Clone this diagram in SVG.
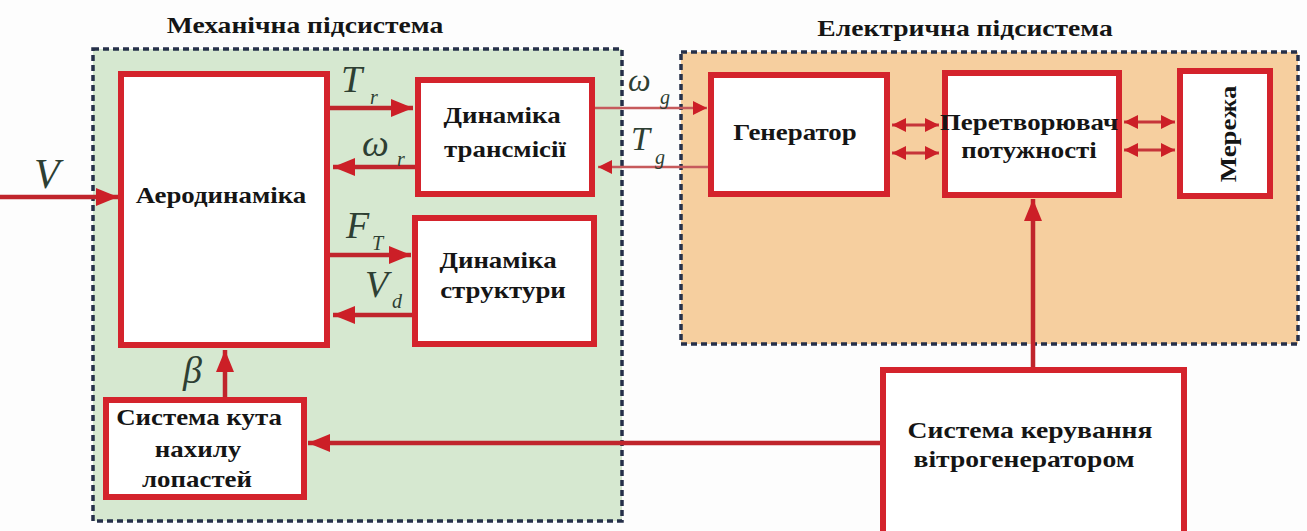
<svg xmlns="http://www.w3.org/2000/svg" width="1307" height="531" viewBox="0 0 1307 531">
  <style>
    .sub { fill: none; stroke: #26304a; stroke-width: 3.5; stroke-dasharray: 6 4; }
    .node { fill: #ffffff; stroke: #d4232c; stroke-width: 6; }
    .t { font-weight: bold; font-size: 24px; fill: #151515; text-anchor: middle; }
    .ttl { font-weight: bold; font-size: 24px; fill: #151515; text-anchor: middle; }
    .sym { font-style: italic; font-size: 38px; fill: #2e3f33; }
    .ix { font-style: italic; font-size: 20px; fill: #2e3f33; }
    .wire { fill: none; stroke: #c0252c; stroke-width: 4.5; }
    .thin { fill: none; stroke: #c65a5c; stroke-width: 2.5; }
    .duo { fill: none; stroke: #c6353a; stroke-width: 3; }
  </style>
  <defs>
    <marker id="head" markerUnits="userSpaceOnUse" markerWidth="24" markerHeight="18" refX="22" refY="9" orient="auto">
      <path d="M0,0 L22,9 L0,18 Z" fill="#cc1f27"/>
    </marker>
    <marker id="headS" markerUnits="userSpaceOnUse" markerWidth="16" markerHeight="14" refX="14" refY="7" orient="auto">
      <path d="M0,0 L14,7 L0,14 Z" fill="#cc1f27"/>
    </marker>
    <marker id="tail" markerUnits="userSpaceOnUse" markerWidth="16" markerHeight="14" refX="0" refY="7" orient="auto">
      <path d="M14,0 L0,7 L14,14 Z" fill="#cc1f27"/>
    </marker>
  </defs>

  <rect x="0" y="0" width="1307" height="531" fill="#fdfdfd"/>

  <!-- subsystem frames -->
  <g id="mech-subsystem">
    <rect x="93" y="49" width="529" height="472" fill="#d6e8d0"/>
    <rect class="sub" x="93" y="49" width="529" height="472"/>
    <text class="ttl" font-family="Liberation Serif" transform="translate(305,33) scale(1.15,1)">Механічна підсистема</text>
  </g>
  <g id="elec-subsystem">
    <rect x="681" y="52" width="617" height="292" fill="#f6cf9f"/>
    <rect class="sub" x="681" y="52" width="617" height="292"/>
    <text class="ttl" font-family="Liberation Serif" transform="translate(965,36) scale(1.15,1)">Електрична підсистема</text>
  </g>

  <!-- connectors -->
  <g id="connectors">
    <line class="wire" x1="0" y1="197" x2="118" y2="197" marker-end="url(#head)"/>
    <line class="wire" x1="330" y1="108" x2="413" y2="108" marker-end="url(#head)"/>
    <line class="wire" x1="415" y1="167" x2="333" y2="167" marker-end="url(#head)"/>
    <line class="wire" x1="330" y1="255" x2="411" y2="255" marker-end="url(#head)"/>
    <line class="wire" x1="412" y1="315" x2="333" y2="315" marker-end="url(#head)"/>
    <line class="thin" x1="595" y1="108" x2="707" y2="108" marker-end="url(#headS)"/>
    <line class="thin" x1="708" y1="167" x2="598" y2="167" marker-end="url(#headS)"/>
    <line class="duo" x1="892" y1="125" x2="939" y2="125" marker-start="url(#tail)" marker-end="url(#headS)"/>
    <line class="duo" x1="892" y1="153" x2="939" y2="153" marker-start="url(#tail)" marker-end="url(#headS)"/>
    <line class="duo" x1="1124" y1="122" x2="1175" y2="122" marker-start="url(#tail)" marker-end="url(#headS)"/>
    <line class="duo" x1="1124" y1="150" x2="1175" y2="150" marker-start="url(#tail)" marker-end="url(#headS)"/>
    <line class="wire" x1="1033" y1="367" x2="1033" y2="199" marker-end="url(#head)"/>
    <line class="wire" x1="880" y1="443" x2="308" y2="443" marker-end="url(#head)"/>
    <line class="wire" x1="225" y1="397" x2="225" y2="350" marker-end="url(#head)"/>

    <!-- signal labels -->
    <text class="sym" font-family="Liberation Serif" x="34" y="188" style="font-size:42px">V</text>
    <text class="sym" font-family="Liberation Serif" x="341" y="92">T</text>
    <text class="ix" font-family="Liberation Serif" x="370" y="104">r</text>
    <text class="sym" font-family="Liberation Serif" x="362" y="156">ω</text>
    <text class="ix" font-family="Liberation Serif" x="397" y="166">r</text>
    <text class="sym" font-family="Liberation Serif" x="346" y="238">F</text>
    <text class="ix" font-family="Liberation Serif" x="372" y="250">T</text>
    <text class="sym" font-family="Liberation Serif" x="365" y="297">V</text>
    <text class="ix" font-family="Liberation Serif" x="392" y="308">d</text>
    <text class="sym" font-family="Liberation Serif" x="183" y="383">β</text>
    <text class="sym" font-family="Liberation Serif" x="628" y="91" style="font-size:32px">ω</text>
    <text class="ix" font-family="Liberation Serif" x="660" y="104">g</text>
    <text class="sym" font-family="Liberation Serif" x="631" y="150" style="font-size:34px">T</text>
    <text class="ix" font-family="Liberation Serif" x="655" y="164">g</text>
  </g>

  <!-- blocks -->
  <g id="aerodynamics">
    <rect class="node" x="121" y="74" width="206" height="271"/>
    <text class="t" font-family="Liberation Serif" transform="translate(221,203) scale(1.12,1)">Аеродинаміка</text>
  </g>
  <g id="drivetrain">
    <rect class="node" x="418" y="80" width="174" height="114"/>
    <text class="t" font-family="Liberation Serif" transform="translate(502,123) scale(1.12,1)">Динаміка</text>
    <text class="t" font-family="Liberation Serif" transform="translate(505,157) scale(1.12,1)">трансмісії</text>
  </g>
  <g id="structure">
    <rect class="node" x="415" y="218" width="179" height="126"/>
    <text class="t" font-family="Liberation Serif" transform="translate(498,268) scale(1.12,1)">Динаміка</text>
    <text class="t" font-family="Liberation Serif" transform="translate(503,298) scale(1.12,1)">структури</text>
  </g>
  <g id="generator">
    <rect class="node" x="711" y="75" width="176" height="119"/>
    <text class="t" font-family="Liberation Serif" transform="translate(795,140) scale(1.12,1)">Генератор</text>
  </g>
  <g id="converter">
    <rect class="node" x="945" y="73" width="174" height="122"/>
    <text class="t" font-family="Liberation Serif" transform="translate(1029,130) scale(1.12,1)">Перетворювач</text>
    <text class="t" font-family="Liberation Serif" transform="translate(1029,158) scale(1.12,1)">потужності</text>
  </g>
  <g id="grid">
    <rect class="node" x="1180" y="71" width="90" height="125"/>
    <text class="t" font-family="Liberation Serif" transform="translate(1236,134) rotate(-90) scale(1.12,1)">Мережа</text>
  </g>
  <g id="pitch-system">
    <rect class="node" x="106" y="400" width="198" height="97"/>
    <text class="t" font-family="Liberation Serif" transform="translate(199,425) scale(1.12,1)">Система кута</text>
    <text class="t" font-family="Liberation Serif" transform="translate(198,457) scale(1.12,1)">нахилу</text>
    <text class="t" font-family="Liberation Serif" transform="translate(197,487) scale(1.12,1)">лопастей</text>
  </g>
  <g id="turbine-control">
    <rect class="node" x="883" y="370" width="301" height="175"/>
    <text class="t" font-family="Liberation Serif" transform="translate(1030,438) scale(1.15,1)">Система керування</text>
    <text class="t" font-family="Liberation Serif" transform="translate(1024,467) scale(1.15,1)">вітрогенератором</text>
  </g>
</svg>
